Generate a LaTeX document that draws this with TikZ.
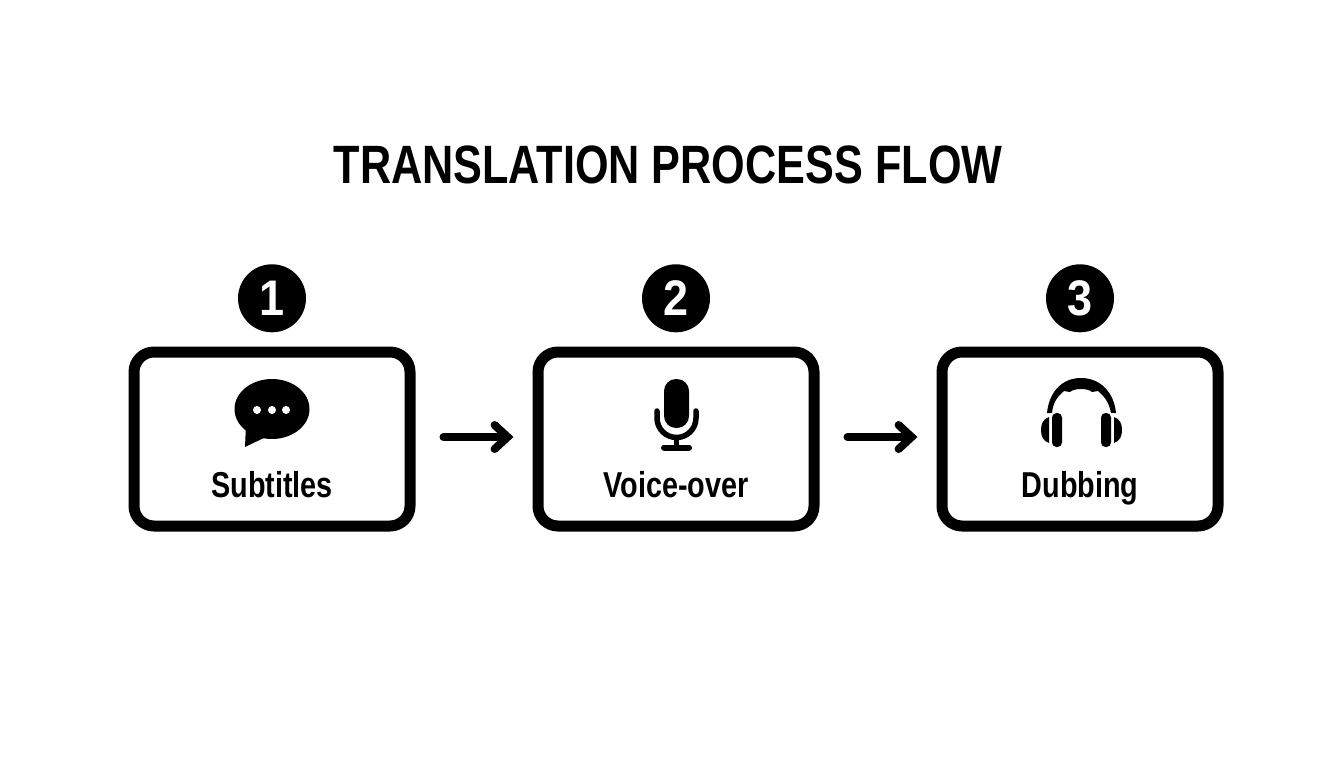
\documentclass[tikz,border=0pt]{standalone}
\usepackage{fontspec}
\setmainfont{Liberation Sans}[FakeStretch=0.8]
\newfontfamily\badgefont{Liberation Sans}[FakeStretch=0.9]
\usetikzlibrary{positioning,arrows.meta}

\begin{document}
\begin{tikzpicture}[x=1pt,y=1pt,>={Straight Barb[length=13pt,width=24pt,line cap=round]},
    step box/.style={draw,line width=11pt,rounded corners=20pt,minimum width=276pt,minimum height=174pt,inner sep=0pt},
    step badge/.style={circle,fill=black,text=white,minimum size=68pt,inner sep=0pt,font=\fontsize{50}{50}\badgefont\bfseries},
    step label/.style={font=\fontsize{36}{36}\selectfont\bfseries},
    flow arrow/.style={->,line width=8pt,line cap=round}]
    \useasboundingbox (0,0) rectangle (1344,-768);

    \node[font=\fontsize{54}{54}\selectfont\bfseries] (title) at (668,-165) {TRANSLATION PROCESS FLOW};

    \node[step box] (box1) at (272,-439) {};
    \node[step box] (box2) [right=117pt of box1] {};
    \node[step box] (box3) [right=117pt of box2] {};

    \node[step badge] (badge1) [above=14pt of box1] {1};
    \node[step badge] (badge2) [above=14pt of box2] {2};
    \node[step badge] (badge3) [above=14pt of box3] {3};

    \node[step label] (label1) [below=29pt of box1.center] {Subtitles};
    \node[step label] (label2) [below=29pt of box2.center] {Voice-over};
    \node[step label] (label3) [below=29pt of box3.center] {Dubbing};

    \draw[flow arrow,shorten <=28pt,shorten >=19pt] ([yshift=2pt]box1.east) -- ([yshift=2pt]box2.west);
    \draw[flow arrow,shorten <=28pt,shorten >=19pt] ([yshift=2pt]box2.east) -- ([yshift=2pt]box3.west);

    % speech bubble
    \fill (272,-409) ellipse [x radius=37.5,y radius=30];
    \fill (246,-425) -- (245,-447) -- (268,-436) -- cycle;
    \fill[white] (257,-410) circle (4) (272,-410) circle (4) (286,-410) circle (4);

    % microphone
    \fill[rounded corners=12pt] (664,-379) rectangle (689,-428);
    \draw[line width=5.5pt,line cap=round] (657,-411) -- (657,-418) arc [start angle=180,end angle=360,radius=19.5] -- (696,-411);
    \draw[line width=5pt] (676.5,-437) -- (676.5,-447);
    \draw[line width=6pt,line cap=round] (664,-447.5) -- (689,-447.5);

    % headphones
    \fill (1047,-413) .. controls (1049,-392) and (1062,-378) .. (1081,-378)
        .. controls (1100,-378) and (1114,-392) .. (1116,-413) -- (1111,-413)
        .. controls (1109,-402) and (1104,-396) .. (1098,-391) -- (1092,-392)
        .. controls (1088,-388) and (1074,-388) .. (1070,-392) -- (1064,-391)
        .. controls (1058,-396) and (1053,-402) .. (1052,-413) -- cycle;
    \fill[white] (1049.5,-413) rectangle (1051.5,-447);
    \fill[white] (1111.5,-413) rectangle (1113.5,-447);
    \fill[rounded corners=4.5pt] (1052,-413) rectangle (1062,-447);
    \fill[rounded corners=4.5pt] (1101,-413) rectangle (1111,-447);
    \fill (1049,-417) .. controls (1043,-419) and (1041,-424) .. (1041,-430)
        .. controls (1041,-436) and (1043,-441) .. (1049,-443) -- cycle;
    \fill (1114,-417) .. controls (1120,-419) and (1122,-424) .. (1122,-430)
        .. controls (1122,-436) and (1120,-441) .. (1114,-443) -- cycle;
\end{tikzpicture}
\end{document}
